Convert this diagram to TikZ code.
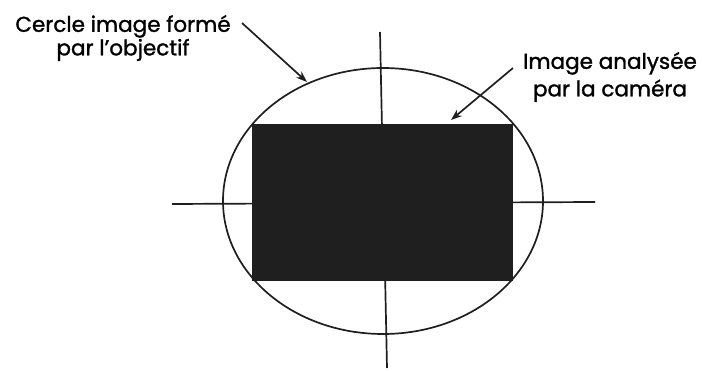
\documentclass[tikz,border=0pt]{standalone}
\usepackage{fontspec}
\setmainfont{Poppins}
\newfontfamily\lblfont{Poppins}[FakeBold=1.3]
\usetikzlibrary{arrows.meta,shapes.geometric}
\begin{document}
\begin{tikzpicture}[x=1pt,y=-1pt,
  lbl/.style={align=center,font=\lblfont\fontsize{21.5}{23.5}\selectfont,inner sep=0pt},
  lblb/.style={align=center,font=\lblfont\fontsize{21.5}{27.5}\selectfont,inner sep=0pt},
  ln/.style={line width=1.7pt,black!88},
  arr/.style={line width=1.7pt,black!88,-{Stealth[length=11pt,width=8pt]}}]
\useasboundingbox (0,0) rectangle (702,371);
% axes
\coordinate (vtop) at (380,32);
\coordinate (vbot) at (387,368);
\coordinate (hl) at (172,204);
\coordinate (hr) at (595,202);
\draw[ln] (vtop) -- (vbot);
\draw[ln] (hl) -- (hr);
% ellipse
\node[ln,draw,ellipse,inner sep=0pt,minimum width=320pt,minimum height=266pt] (circ) at (383,201) {};
% image rectangle
\node[draw=black!88,fill=black!88,line width=1.6pt,minimum width=259pt,minimum height=155pt,inner sep=0pt] (img) at (382.5,202.5) {};
% labels
\node[lbl] (t1) at (123,38) {Cercle image formé\\par l’objectif};
\node[lblb] (t2) at (610,77) {Image analysée\\par la caméra};
\coordinate (a1s) at (242,23);
\coordinate (a1e) at (307,82);
\coordinate (a2s) at (513,68);
\coordinate (a2e) at (451,120);
\draw[arr] (a1s) -- (a1e);
\draw[arr] (a2s) -- (a2e);
\end{tikzpicture}
\end{document}
